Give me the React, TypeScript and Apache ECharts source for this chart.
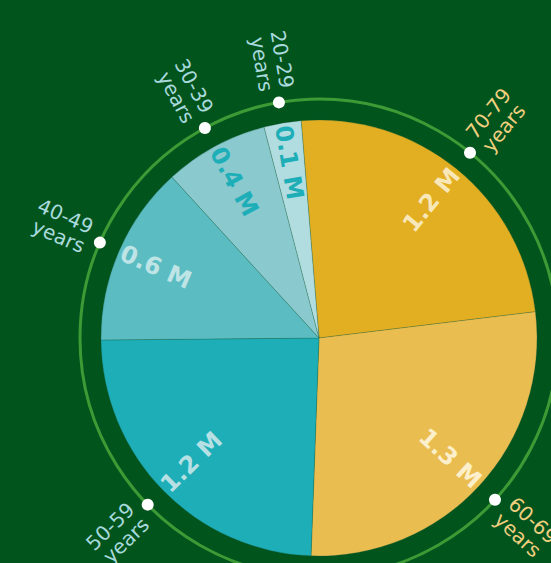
import React, { useEffect, useRef } from "react";
import * as echarts from "echarts";

const ageGroups = ["70-79", "60-69", "50-59", "40-49", "30-39", "20-29"];
const people = [1170000, 1320000, 1165000, 641000, 371000, 132000];
const sliceColors = ["#e2ae22", "#eabd50", "#1eaeb8", "#5bbcc2", "#8acacf", "#b2dde0"];
const valueLabelColors = ["#f8e7b8", "#fcefcb", "#b6e0e3", "#bfe4e6", "#1eaeb8", "#1eaeb8"];
const groupLabelColors = ["#f1cf7f", "#f1cf7f", "#a6d9dc", "#a9dadd", "#a9dadd", "#a9dadd"];

export default function App() {
  const ref = useRef<HTMLDivElement>(null);
  useEffect(() => {
    if (!ref.current) return;
    const chart = echarts.init(ref.current, undefined, { renderer: "svg" });
    const total = people.reduce((a, b) => a + b, 0);
    const mids: number[] = [];
    let acc = 0;
    people.forEach((v) => {
      mids.push(acc + v / 2);
      acc += v;
    });
    const center = [319, 338];
    const startAngle = 94.7;
    const font = "DejaVu Sans";

    chart.setOption({
      animation: false,
      backgroundColor: "#02541d",
      polar: { center, radius: 239 },
      angleAxis: {
        type: "value",
        min: 0,
        max: total,
        startAngle,
        clockwise: true,
        axisLine: { show: true, lineStyle: { color: "#3d9b35", width: 3 } },
        axisTick: { show: false },
        axisLabel: { show: false },
        splitLine: { show: false },
        splitArea: { show: false },
      },
      radiusAxis: { type: "value", min: 0, max: 1, show: false },
      series: [
        {
          type: "pie",
          center,
          radius: [0, 218],
          startAngle,
          clockwise: true,
          silent: true,
          label: { show: false },
          labelLine: { show: false },
          itemStyle: { borderColor: "rgba(20,90,60,0.35)", borderWidth: 0.7 },
          data: ageGroups.map((g, i) => ({
            name: g,
            value: people[i],
            itemStyle: { color: sliceColors[i] },
          })),
        },
        {
          type: "pie",
          center,
          radius: [132, 218],
          startAngle,
          clockwise: true,
          silent: true,
          avoidLabelOverlap: false,
          itemStyle: { color: "rgba(0,0,0,0)", borderWidth: 0 },
          labelLine: { show: false },
          data: ageGroups.map((g, i) => ({
            name: g,
            value: people[i],
            label: {
              show: true,
              position: "inside",
              rotate: "radial",
              formatter: (people[i] / 1e6).toFixed(1) + " M",
              color: valueLabelColors[i],
              fontFamily: font,
              fontWeight: "bold",
              fontSize: 24,
            },
          })),
        },
        {
          type: "pie",
          center,
          radius: [0, 239],
          startAngle,
          clockwise: true,
          silent: true,
          avoidLabelOverlap: false,
          itemStyle: { color: "rgba(0,0,0,0)", borderWidth: 0 },
          labelLine: { show: false, length: 13, length2: 0 },
          data: ageGroups.map((g, i) => ({
            name: g,
            value: people[i],
            label: {
              show: true,
              position: "outside",
              rotate: "radial",
              distanceToLabelLine: 0,
              formatter: g + "\nyears",
              color: groupLabelColors[i],
              fontFamily: font,
              fontSize: 20,
              lineHeight: 21,
            },
          })),
        },
        {
          type: "scatter",
          coordinateSystem: "polar",
          silent: true,
          symbol: "circle",
          symbolSize: 12,
          itemStyle: { color: "#ffffff", opacity: 1 },
          z: 10,
          data: mids.map((m) => [1, m]),
        },
      ],
    });
    return () => chart.dispose();
  }, []);
  return (
    <div
      ref={ref}
      style={{ position: "fixed", left: 0, top: 0, width: 551, height: 563 }}
    />
  );
}
